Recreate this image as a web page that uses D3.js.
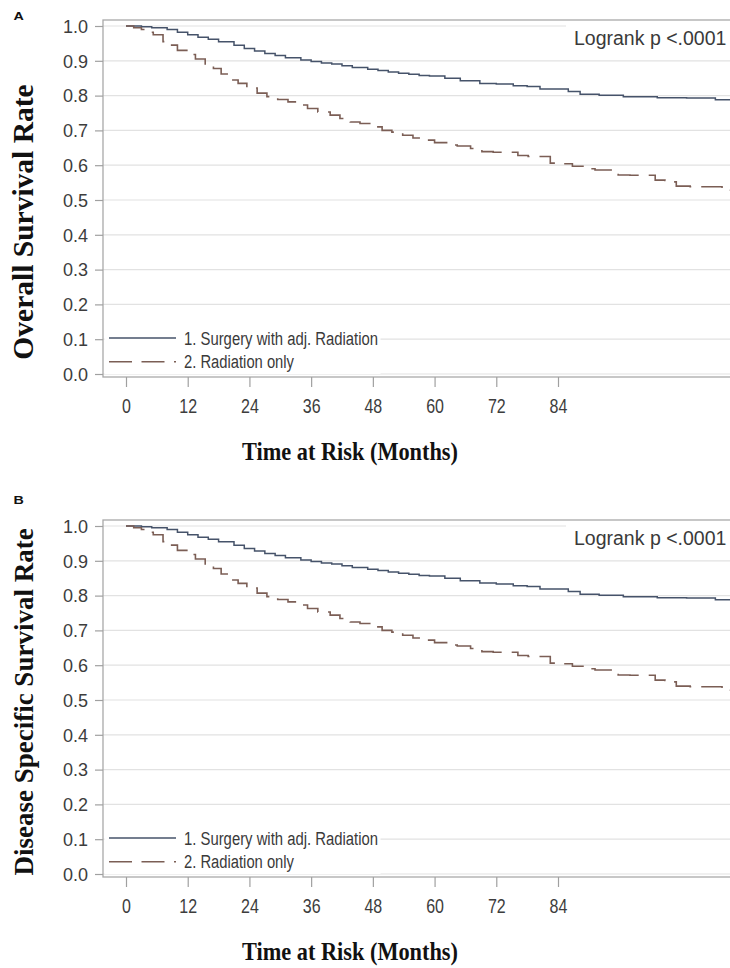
<!DOCTYPE html>
<html>
<head>
<meta charset="utf-8">
<script src="https://cdn.jsdelivr.net/npm/d3@7"></script>
<style>
  body { margin: 0; background: #fff; }
  svg { display: block; }
</style>
</head>
<body>
<svg id="chart" width="730" height="968"></svg>
<script>
// ---------- DATA ----------
const timeTicks = [0, 12, 24, 36, 48, 60, 72, 84];
const survTicks = [0.0, 0.1, 0.2, 0.3, 0.4, 0.5, 0.6, 0.7, 0.8, 0.9, 1.0];
const legendLabels = ["1. Surgery with adj. Radiation", "2. Radiation only"];
const panelLetters = ["A", "B"];
const yTitles = ["Overall Survival Rate", "Disease Specific Survival Rate"];
const xTitle = "Time at Risk (Months)";
const pValueText = "Logrank p <.0001";

// Panel A – overall survival
const osSurgeryMonths = [0, 3, 5, 8, 10, 12, 14, 16, 18, 21, 23, 25, 27, 29, 31, 34, 36, 38, 40, 42, 44, 47, 49, 51, 53, 55, 57, 59, 62, 65, 68.8, 72, 75.3, 78, 80.5, 86, 88.3, 92, 96.7, 103.3, 109, 114.6, 117.5];
const osSurgerySurv   = [1.0, 0.998, 0.995, 0.99, 0.982, 0.975, 0.968, 0.962, 0.955, 0.945, 0.935, 0.928, 0.921, 0.915, 0.909, 0.902, 0.898, 0.894, 0.891, 0.886, 0.881, 0.876, 0.872, 0.868, 0.864, 0.861, 0.858, 0.856, 0.85, 0.843, 0.835, 0.833, 0.828, 0.826, 0.819, 0.812, 0.804, 0.801, 0.797, 0.794, 0.793, 0.788, 0.788];
const osRadiationMonths = [0, 1.5, 3, 4.5, 5.3, 7.2, 8.5, 10, 12, 13.5, 15.4, 17, 18.5, 20, 21.8, 23.5, 25.5, 27.4, 29.5, 31.5, 33.4, 35.3, 37.3, 39.7, 41.6, 43.6, 45.5, 47.6, 49.8, 51.7, 53.8, 55.8, 57.8, 60, 62.6, 64.4, 67, 69.2, 71.4, 76.2, 78.2, 82.5, 84.4, 86.8, 89.3, 91.2, 95.7, 98, 102.9, 104.8, 106, 107, 109.7, 111.6, 115.9, 117.5];
const osRadiationSurv   = [1.0, 0.995, 0.99, 0.982, 0.975, 0.955, 0.945, 0.93, 0.918, 0.905, 0.887, 0.878, 0.862, 0.845, 0.835, 0.822, 0.807, 0.797, 0.789, 0.782, 0.773, 0.763, 0.753, 0.744, 0.734, 0.724, 0.72, 0.71, 0.70, 0.695, 0.686, 0.678, 0.672, 0.665, 0.658, 0.655, 0.648, 0.639, 0.637, 0.628, 0.625, 0.606, 0.604, 0.597, 0.59, 0.586, 0.572, 0.571, 0.557, 0.556, 0.552, 0.54, 0.538, 0.538, 0.528, 0.528];

// Panel B – disease specific survival (reads the same as panel A)
const dssSurgeryMonths = osSurgeryMonths.slice();
const dssSurgerySurv   = [1.0, 0.998, 0.995, 0.99, 0.982, 0.975, 0.968, 0.962, 0.955, 0.945, 0.935, 0.928, 0.921, 0.915, 0.909, 0.902, 0.898, 0.894, 0.891, 0.886, 0.881, 0.876, 0.872, 0.868, 0.864, 0.861, 0.858, 0.856, 0.85, 0.843, 0.836, 0.833, 0.828, 0.826, 0.819, 0.812, 0.804, 0.801, 0.797, 0.794, 0.793, 0.788, 0.788];
const dssRadiationMonths = osRadiationMonths.slice();
const dssRadiationSurv   = [1.0, 0.995, 0.99, 0.982, 0.975, 0.955, 0.945, 0.93, 0.918, 0.905, 0.887, 0.878, 0.862, 0.845, 0.835, 0.822, 0.807, 0.797, 0.789, 0.782, 0.773, 0.763, 0.753, 0.744, 0.734, 0.724, 0.72, 0.71, 0.70, 0.695, 0.686, 0.678, 0.672, 0.665, 0.658, 0.655, 0.648, 0.639, 0.637, 0.628, 0.625, 0.606, 0.604, 0.597, 0.59, 0.586, 0.572, 0.571, 0.557, 0.556, 0.552, 0.54, 0.538, 0.538, 0.528, 0.528];

// ---------- DRAWING ----------
const svg = d3.select("#chart");
const SANS = "'Liberation Sans', Arial, sans-serif";
const SERIF = "'Liberation Serif', 'Times New Roman', serif";
const colSurgery = "#46536a";
const colRadiation = "#7b5e55";

const x = d3.scaleLinear().domain([0, 84]).range([126, 558]);
const y = d3.scaleLinear().domain([0, 1]).range([374, 26]);
const frame = { left: 103, top: 20, right: 736, bottom: 377 };

const zip = (a, b) => a.map((v, i) => [v, b[i]]);
const stepLine = d3.line().x(d => x(d[0])).y(d => y(d[1])).curve(d3.curveStepAfter);

function drawPanel(cfg) {
  const g = svg.append("g").attr("transform", `translate(0,${cfg.offset})`);

  // gridlines
  g.append("g").selectAll("line").data(survTicks).join("line")
    .attr("x1", frame.left).attr("x2", frame.right)
    .attr("y1", d => y(d)).attr("y2", d => y(d))
    .attr("stroke", "#e2e2e2").attr("stroke-width", 1.2);

  // frame
  g.append("rect")
    .attr("x", frame.left).attr("y", frame.top)
    .attr("width", frame.right - frame.left).attr("height", frame.bottom - frame.top)
    .attr("fill", "none").attr("stroke", "#a9a9a9").attr("stroke-width", 1.3);

  // y axis
  const yAxis = g.append("g").attr("transform", `translate(${frame.left},0)`)
    .call(d3.axisLeft(y).tickValues(survTicks).tickFormat(d3.format(".1f")).tickSize(8).tickPadding(7));
  yAxis.select(".domain").remove();
  yAxis.selectAll(".tick line").attr("stroke", "#a0a0a0").attr("stroke-width", 1.2);
  yAxis.selectAll(".tick text").attr("font-family", SANS).attr("font-size", 18)
    .attr("fill", "#3d3d3d").attr("dy", "0.35em");

  // x axis
  const xAxis = g.append("g").attr("transform", `translate(0,${frame.bottom})`)
    .call(d3.axisBottom(x).tickValues(timeTicks).tickSize(10).tickPadding(0));
  xAxis.select(".domain").remove();
  xAxis.selectAll(".tick line").attr("stroke", "#a0a0a0").attr("stroke-width", 1.2);
  xAxis.selectAll(".tick text").attr("font-family", SANS).attr("font-size", 20)
    .attr("fill", "#3d3d3d").attr("y", 0).attr("dy", 0)
    .attr("transform", "translate(0,35.7) scale(0.8,1)");

  // Logrank box
  g.append("rect").attr("x", 566).attr("y", frame.top + 1.5).attr("width", 172).attr("height", 34).attr("fill", "#fff");
  g.append("text").attr("x", 574).attr("y", 45)
    .attr("font-family", SANS).attr("font-size", 19.5).attr("fill", "#3a3a3a")
    .text(pValueText);

  // curves
  g.append("path").datum(cfg.surgery).attr("d", stepLine)
    .attr("fill", "none").attr("stroke", colSurgery).attr("stroke-width", 1.5);
  g.append("path").datum(cfg.radiation).attr("d", stepLine)
    .attr("fill", "none").attr("stroke", colRadiation).attr("stroke-width", 1.6)
    .attr("stroke-dasharray", "22,10");

  // legend
  g.append("rect").attr("x", frame.left + 1.5).attr("y", 326).attr("width", 276).attr("height", 48).attr("fill", "#fff");
  const rows = [
    { label: legendLabels[0], ly: 338, ty: 345, color: colSurgery, dash: null, len: 194 },
    { label: legendLabels[1], ly: 361.7, ty: 368, color: colRadiation, dash: "23,9.5", len: 110 }
  ];
  rows.forEach(r => {
    g.append("line").attr("x1", 109).attr("x2", 176).attr("y1", r.ly).attr("y2", r.ly)
      .attr("stroke", r.color).attr("stroke-width", 1.5)
      .attr("stroke-dasharray", r.dash);
    g.append("text").attr("x", 184).attr("y", r.ty)
      .attr("font-family", SANS).attr("font-size", 18).attr("fill", "#3a3a3a")
      .attr("textLength", r.len).attr("lengthAdjust", "spacingAndGlyphs")
      .text(r.label);
  });

  // axis titles
  g.append("text").attr("text-anchor", "middle")
    .attr("transform", `translate(33,${cfg.yTitleCenter}) rotate(-90)`)
    .attr("font-family", SERIF).attr("font-weight", "bold").attr("font-size", cfg.yTitleSize)
    .attr("fill", "#111").text(cfg.yTitle);
  g.append("text").attr("text-anchor", "middle").attr("x", 350).attr("y", 460)
    .attr("font-family", SERIF).attr("font-weight", "bold").attr("font-size", 26)
    .attr("textLength", 216).attr("lengthAdjust", "spacingAndGlyphs")
    .attr("fill", "#111").text(xTitle);

  // panel letter
  g.append("text").attr("transform", `translate(13.5,${cfg.letterY}) scale(1.3,1)`)
    .attr("font-family", SANS).attr("font-weight", "bold").attr("font-size", 11)
    .attr("fill", "#111").text(cfg.letter);
}

drawPanel({
  offset: 0, letter: panelLetters[0], letterY: 19.5,
  yTitle: yTitles[0], yTitleCenter: 222, yTitleSize: 29.5,
  surgery: zip(osSurgeryMonths, osSurgerySurv),
  radiation: zip(osRadiationMonths, osRadiationSurv)
});
drawPanel({
  offset: 500, letter: panelLetters[1], letterY: 4,
  yTitle: yTitles[1], yTitleCenter: 202, yTitleSize: 27,
  surgery: zip(dssSurgeryMonths, dssSurgerySurv),
  radiation: zip(dssRadiationMonths, dssRadiationSurv)
});
</script>
</body>
</html>
